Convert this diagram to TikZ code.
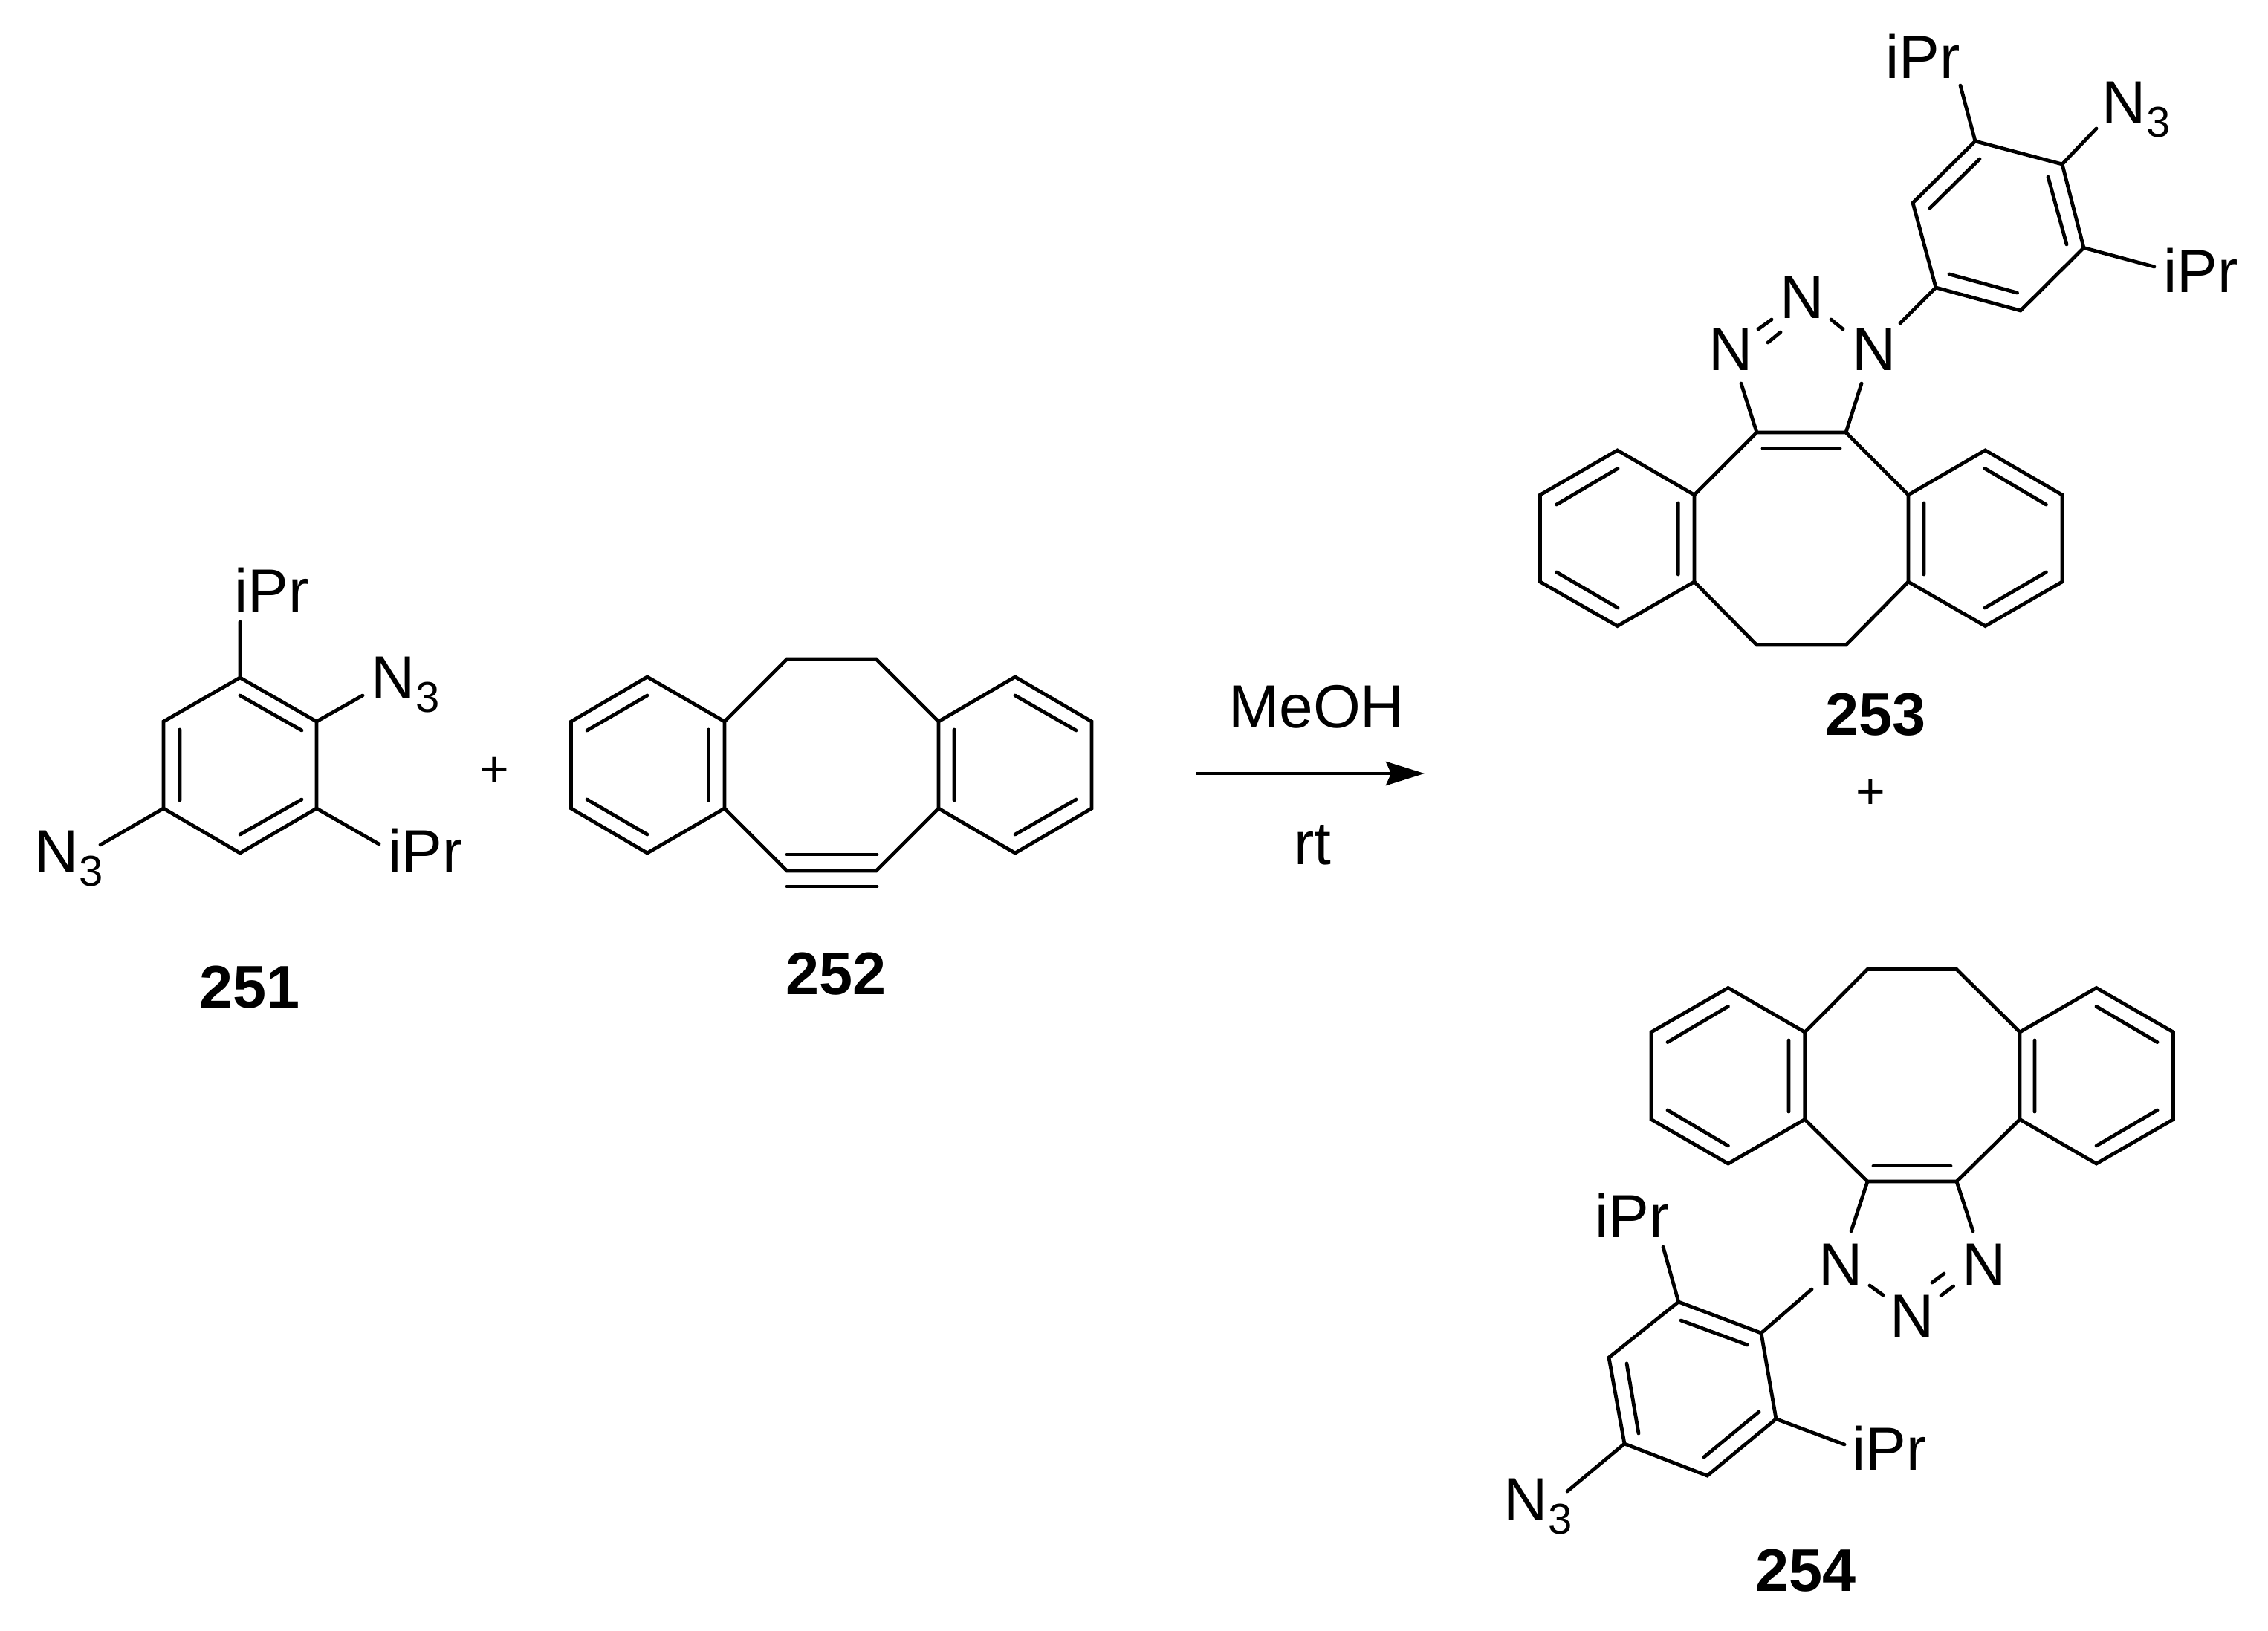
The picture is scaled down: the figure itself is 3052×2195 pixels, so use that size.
\documentclass[tikz,border=0pt]{standalone}
\usepackage{fontspec}
\setmainfont{Liberation Sans}
\usetikzlibrary{arrows.meta}
\tikzset{
  bond/.style={line width=4.8pt,line join=miter,line cap=round},
  inbond/.style={line width=4.8pt,line cap=round},
  lab/.style={anchor=base west,inner sep=0pt,font=\fontsize{82}{90}\selectfont},
  cpd/.style={anchor=base west,inner sep=0pt,font=\fontsize{81}{90}\selectfont\bfseries},
  plussign/.style={anchor=center,inner sep=0pt,font=\fontsize{68}{70}\selectfont},
  rxn/.style={line width=4.8pt,-{Stealth[length=52pt,width=32pt,inset=7pt]}}
}
\newcommand{\subthree}{\kern1pt\raisebox{-18pt}{\fontsize{58}{60}\selectfont 3}}
\begin{document}
\begin{tikzpicture}[x=1pt,y=-1pt]
\useasboundingbox[fill=white] (0,0) rectangle (3052,2195);

% ---------- 251
\coordinate (a1) at (323,912);
\coordinate (a2) at (426,971);
\coordinate (a3) at (426,1088);
\coordinate (a4) at (323,1148);
\coordinate (a5) at (220,1088);
\coordinate (a6) at (220,971);
\coordinate (aipr1) at (323,837);
\coordinate (an3a) at (488,936);
\coordinate (aipr2) at (510,1136);
\coordinate (an3b) at (135,1137);
\draw[bond] (a1)--(a2)--(a3)--(a4)--(a5)--(a6)--cycle;
\draw[bond] (a1)--(aipr1) (a2)--(an3a) (a3)--(aipr2) (a5)--(an3b);
\draw[inbond] (323,936)--(406,983) (323,1123)--(406,1076) (242,982)--(242,1077);
\node[lab] (t251ipr1) at (315,823) {iPr};
\node[lab] (t251n3a) at (499,940) {N\subthree};
\node[lab] (t251ipr2) at (522,1174) {iPr};
\node[lab] (t251n3b) at (46,1174) {N\subthree};
\node[cpd] (t251) at (268,1356) {251};
\node[plussign] (plus1) at (665,1039) {+};

% ---------- 252
\coordinate (b1) at (871,911);
\coordinate (b2) at (768.5,971);
\coordinate (b3) at (768.5,1088);
\coordinate (b4) at (871,1148);
\coordinate (b5) at (975,1088);
\coordinate (b6) at (975,971);
\coordinate (b7) at (1059,887);
\coordinate (b8) at (1179,887);
\coordinate (b9) at (1263,971);
\coordinate (b10) at (1366,911);
\coordinate (b11) at (1469,971);
\coordinate (b12) at (1469,1088);
\coordinate (b13) at (1366,1148);
\coordinate (b14) at (1263,1088);
\coordinate (b15) at (1179,1172);
\coordinate (b16) at (1059,1172);
\draw[bond] (b1)--(b2)--(b3)--(b4)--(b5)--(b6)--cycle;
\draw[bond] (b9)--(b10)--(b11)--(b12)--(b13)--(b14)--cycle;
\draw[bond] (b6)--(b7)--(b8)--(b9) (b14)--(b15)--(b16)--(b5);
\draw[inbond] (871,936)--(790,983) (871,1123)--(790,1076) (953.5,982)--(953.5,1077);
\draw[inbond] (1284,982)--(1284,1077) (1366,936)--(1448,983) (1366,1123)--(1448,1076);
\draw[inbond] (1059,1150)--(1180,1150) (1059,1193)--(1180,1193);
\node[cpd] (t252) at (1057,1338) {252};

% ---------- arrow
\coordinate (arrs) at (1610,1041);
\coordinate (arre) at (1917,1041);
\draw[rxn] (arrs)--(arre);
\node[lab] (tmeoh) at (1653,979) {MeOH};
\node[lab] (trt) at (1741,1163) {rt};

% ---------- 253
\coordinate (c1) at (2176.5,606);
\coordinate (c2) at (2072.5,666);
\coordinate (c3) at (2072.5,783);
\coordinate (c4) at (2176.5,842.5);
\coordinate (c5) at (2280,783);
\coordinate (c6) at (2280,666);
\coordinate (c7) at (2364,582);
\coordinate (c8) at (2484,582);
\coordinate (c9) at (2568,666);
\coordinate (c10) at (2671.5,606);
\coordinate (c11) at (2775,666);
\coordinate (c12) at (2775,783);
\coordinate (c13) at (2671.5,842.5);
\coordinate (c14) at (2568,783);
\coordinate (c15) at (2484,868);
\coordinate (c16) at (2364,868);
\coordinate (cn1) at (2343,516);
\coordinate (cn2) at (2505,516);
\coordinate (d1) at (2658,190);
\coordinate (d2) at (2775,221);
\coordinate (d3) at (2804,333.5);
\coordinate (d4) at (2719,418);
\coordinate (d5) at (2605,387);
\coordinate (d6) at (2574,273);
\coordinate (dipr1) at (2638,115);
\coordinate (dn3) at (2821,173);
\coordinate (dipr2) at (2899,359);
\coordinate (dn) at (2557,435);
\draw[bond] (c1)--(c2)--(c3)--(c4)--(c5)--(c6)--cycle;
\draw[bond] (c9)--(c10)--(c11)--(c12)--(c13)--(c14)--cycle;
\draw[bond] (c6)--(c7)--(c8)--(c9) (c14)--(c15)--(c16)--(c5);
\draw[bond] (cn1)--(c7) (cn2)--(c8);
\draw[inbond] (2177,630.5)--(2094.6,679) (2094.6,770)--(2177,818) (2258.3,677)--(2258.3,773);
\draw[inbond] (2671,630.5)--(2753.4,679) (2753.4,770)--(2671,818) (2589,677)--(2589,773);
\draw[inbond] (2372,603.5)--(2476,603.5);
\draw[bond] (d1)--(d2)--(d3)--(d4)--(d5)--(d6)--cycle;
\draw[bond] (d1)--(dipr1) (d2)--(dn3) (d3)--(dipr2) (d5)--(dn);
\draw[inbond] (2664,214)--(2597,280) (2756,238)--(2781,329) (2623,369)--(2714.5,394);
\draw[inbond] (2384,430)--(2366,443) (2396,447)--(2379,461) (2464,430)--(2480,443);
\node[lab] (t253ipr1) at (2537,105) {iPr};
\node[lab] (t253n3) at (2828,166) {N\subthree};
\node[lab] (t253ipr2) at (2911,393) {iPr};
\node[lab] (t253na) at (2395,428.5) {N};
\node[lab] (t253nb) at (2299,498) {N};
\node[lab] (t253nc) at (2492.5,498) {N};
\node[cpd] (t253) at (2456,989) {253};
\node[plussign] (plus2) at (2517,1069) {+};

% ---------- 254
\coordinate (e1) at (2325.5,1329.5);
\coordinate (e2) at (2222,1389);
\coordinate (e3) at (2222,1506.5);
\coordinate (e4) at (2325.5,1566);
\coordinate (e5) at (2428.7,1506.5);
\coordinate (e6) at (2428.7,1389);
\coordinate (e7) at (2513,1304.5);
\coordinate (e8) at (2633,1304.5);
\coordinate (e9) at (2718,1389);
\coordinate (e10) at (2821,1329.5);
\coordinate (e11) at (2924.5,1389);
\coordinate (e12) at (2924.5,1506.5);
\coordinate (e13) at (2821,1566);
\coordinate (e14) at (2718,1506.5);
\coordinate (e15) at (2633,1590);
\coordinate (e16) at (2513,1590);
\coordinate (en1) at (2491,1657);
\coordinate (en2) at (2655,1657);
\coordinate (f1) at (2258.7,1752);
\coordinate (f2) at (2370,1794);
\coordinate (f3) at (2390,1909.6);
\coordinate (f4) at (2297.4,1986);
\coordinate (f5) at (2186,1943);
\coordinate (f6) at (2165,1827);
\coordinate (fn) at (2438,1735);
\coordinate (fipr1) at (2238,1678);
\coordinate (fipr2) at (2482,1944);
\coordinate (fn3) at (2109,2007);
\draw[bond] (e1)--(e2)--(e3)--(e4)--(e5)--(e6)--cycle;
\draw[bond] (e9)--(e10)--(e11)--(e12)--(e13)--(e14)--cycle;
\draw[bond] (e6)--(e7)--(e8)--(e9) (e14)--(e15)--(e16)--(e5);
\draw[bond] (en1)--(e16) (en2)--(e15);
\draw[inbond] (2325.4,1354.5)--(2244,1402.5) (2244,1494)--(2325.4,1542) (2407,1400)--(2407,1496);
\draw[inbond] (2821,1354.5)--(2903,1402.5) (2903,1494)--(2821,1542) (2738,1400)--(2738,1496);
\draw[inbond] (2521,1569)--(2625,1569);
\draw[bond] (f1)--(f2)--(f3)--(f4)--(f5)--(f6)--cycle;
\draw[bond] (f2)--(fn) (f1)--(fipr1) (f3)--(fipr2) (f5)--(fn3);
\draw[inbond] (2262,1777)--(2351.5,1810) (2189,1835)--(2205,1929) (2367,1900)--(2293,1961);
\draw[inbond] (2516,1730)--(2534,1743) (2616,1714)--(2600,1726) (2628.6,1731)--(2612,1743.5);
\node[lab] (t254ipr1) at (2146.5,1665) {iPr};
\node[lab] (t254ipr2) at (2492,1978.5) {iPr};
\node[lab] (t254n3) at (2023.5,2046.5) {N\subthree};
\node[lab] (t254na) at (2447,1730) {N};
\node[lab] (t254nb) at (2640,1730) {N};
\node[lab] (t254nc) at (2543,1799) {N};
\node[cpd] (t254) at (2362,2141.5) {254};
\end{tikzpicture}
\end{document}
